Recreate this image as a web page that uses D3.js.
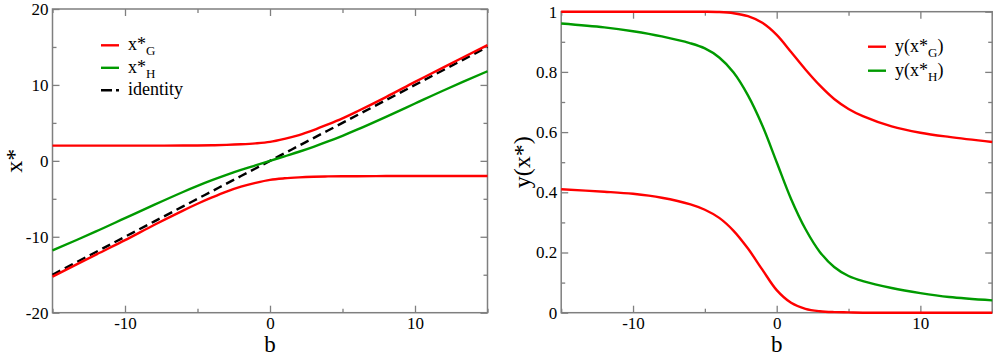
<!DOCTYPE html>
<html>
<head>
<meta charset="utf-8">
<script src="https://cdn.jsdelivr.net/npm/d3@7"></script>
<style>
  body { margin: 0; background: #fff; }
  svg { display: block; }
  text { font-family: "Liberation Serif", "DejaVu Serif", serif; fill: #000; }
</style>
</head>
<body>
<svg id="chart" width="993" height="356"></svg>
<script>
const bVals = [-15, -12, -10, -8, -6, -5, -4, -3, -2, -1, 0, 1, 2, 3, 4, 5, 6, 8, 10, 12, 15];

// left panel: fixed points x*
const xGUpper = [2.0, 2.0, 2.0, 2.0, 2.02, 2.03, 2.05, 2.1, 2.18, 2.3, 2.5, 2.9, 3.4, 4.05, 4.8, 5.6, 6.5, 8.4, 10.4, 12.35, 15.25];
const xGLower = [-15.25, -12.35, -10.45, -8.45, -6.55, -5.65, -4.82, -4.05, -3.4, -2.9, -2.5, -2.3, -2.18, -2.1, -2.05, -2.03, -2.02, -2.0, -2.0, -2.0, -2.0];
const xH = [-11.8, -9.3, -7.55, -5.8, -4.1, -3.3, -2.55, -1.85, -1.2, -0.6, 0, 0.6, 1.2, 1.85, 2.55, 3.3, 4.1, 5.8, 7.55, 9.3, 11.8];
const identity = [-15, -12, -10, -8, -6, -5, -4, -3, -2, -1, 0, 1, 2, 3, 4, 5, 6, 8, 10, 12, 15];

// right panel: y(x*)
const yGUpper = [1.0, 1.0, 1.0, 1.0, 1.0, 1.0, 0.999, 0.995, 0.985, 0.963, 0.923, 0.866, 0.808, 0.755, 0.71, 0.677, 0.653, 0.619, 0.598, 0.584, 0.567];
const yGLower = [0.41, 0.402, 0.395, 0.382, 0.36, 0.342, 0.315, 0.272, 0.213, 0.143, 0.075, 0.033, 0.013, 0.005, 0.002, 0.001, 0, 0, 0, 0, 0];
const yH = [0.961, 0.948, 0.935, 0.918, 0.895, 0.878, 0.848, 0.798, 0.722, 0.622, 0.5, 0.378, 0.278, 0.202, 0.152, 0.122, 0.105, 0.082, 0.065, 0.052, 0.041];

const bMajor = [-10, 0, 10];
const bMinor = [-15, -5, 5, 15];
const leftMajor = [-20, -10, 0, 10, 20];
const leftMinor = [-15, -5, 5, 15];
const rightMajor = [0, 0.2, 0.4, 0.6, 0.8, 1];
const rightMinor = [0.1, 0.3, 0.5, 0.7, 0.9];

const RED = "#ff0000";
const GREEN = "#009a00";
const FRAME = "#7f7f7f";
const SERIF = "Liberation Serif, DejaVu Serif, serif";

const svg = d3.select("#chart");

function pts(ys) {
  return bVals.map((b, i) => ({ b: b, v: ys[i] }));
}

function drawPanel(p) {
  const x = d3.scaleLinear().domain([-15, 15]).range([p.left, p.right]);
  const y = d3.scaleLinear().domain(p.yDomain).range([p.bottom, p.top]);
  const g = svg.append("g");

  // ticks, all pointing inward, mirrored on all sides
  function ticks(axisFn, vals, size, pos, showLabels, fmt) {
    const a = axisFn(axisFn === d3.axisBottom || axisFn === d3.axisTop ? x : y)
      .tickValues(vals)
      .tickSize(-size)
      .tickPadding(4)
      .tickFormat(showLabels ? fmt : "");
    const ag = g.append("g").attr("transform", pos).call(a);
    ag.attr("font-family", SERIF).attr("font-size", 17);
    ag.select(".domain").remove();
    ag.selectAll("line").attr("stroke", FRAME).attr("stroke-width", 1.3);
    ag.selectAll("text").style("font-family", SERIF).style("font-size", "17px").attr("fill", "#000");
  }
  const bot = "translate(0," + p.bottom + ")";
  const top = "translate(0," + p.top + ")";
  const lft = "translate(" + p.left + ",0)";
  const rgt = "translate(" + p.right + ",0)";
  const plain = (d) => String(d);
  ticks(d3.axisBottom, bMajor, 7, bot, true, plain);
  ticks(d3.axisBottom, bMinor, 4, bot, false);
  ticks(d3.axisTop, bMajor, 7, top, false);
  ticks(d3.axisTop, bMinor, 4, top, false);
  ticks(d3.axisLeft, p.yMajor, 7, lft, true, p.yFmt);
  ticks(d3.axisLeft, p.yMinor, 4, lft, false);
  ticks(d3.axisRight, p.yMajor, 7, rgt, false);
  ticks(d3.axisRight, p.yMinor, 4, rgt, false);

  g.append("rect")
    .attr("x", p.left).attr("y", p.top)
    .attr("width", p.right - p.left).attr("height", p.bottom - p.top)
    .attr("fill", "none").attr("stroke", FRAME).attr("stroke-width", 1.5);

  const line = d3.line()
    .x((d) => x(d.b))
    .y((d) => y(d.v))
    .curve(d3.curveCatmullRom.alpha(0.5));

  p.series.forEach((s) => {
    g.append("path")
      .datum(pts(s.values))
      .attr("fill", "none")
      .attr("stroke", s.color)
      .attr("stroke-width", 2.4)
      .attr("stroke-dasharray", s.dash || null)
      .attr("d", line);
  });

  // axis titles
  g.append("text")
    .attr("x", (p.left + p.right) / 2)
    .attr("y", 352)
    .attr("text-anchor", "middle")
    .style("font-size", "23px")
    .text("b");
  g.append("text")
    .attr("transform", "translate(" + p.yTitleX + "," + (p.top + p.bottom) / 2 + ") rotate(-90)")
    .attr("text-anchor", "middle")
    .style("font-size", "24px")
    .text(p.yTitle);

  // legend
  p.legend.forEach((l, i) => {
    const ly = p.legendY + i * p.legendStep;
    g.append("line")
      .attr("x1", p.legendX).attr("x2", p.legendX + 18)
      .attr("y1", ly).attr("y2", ly)
      .attr("stroke", l.color).attr("stroke-width", 2.4)
      .attr("stroke-dasharray", l.dash || null);
    const t = g.append("text")
      .attr("x", p.legendX + 27)
      .attr("y", ly + 5)
      .style("font-size", "18px");
    t.append("tspan").text(l.main);
    if (l.sub) {
      t.append("tspan").attr("dy", 5).style("font-size", "13px").text(l.sub);
      if (l.after) t.append("tspan").attr("dy", -5).text(l.after);
    }
  });
}

drawPanel({
  left: 52.5, right: 487.5, top: 9, bottom: 312.7,
  yDomain: [-20, 20], yMajor: leftMajor, yMinor: leftMinor, yFmt: (d) => String(d),
  yTitle: "x*", yTitleX: 22,
  series: [
    { values: identity, color: "#000", dash: "9,5" },
    { values: xH, color: GREEN },
    { values: xGUpper, color: RED },
    { values: xGLower, color: RED }
  ],
  legendX: 101, legendY: 45.3, legendStep: 22.5,
  legend: [
    { main: "x*", sub: "G", color: RED },
    { main: "x*", sub: "H", color: GREEN },
    { main: "identity", color: "#000", dash: "11,4" }
  ]
});

drawPanel({
  left: 561.2, right: 992.2, top: 11.7, bottom: 312.7,
  yDomain: [0, 1], yMajor: rightMajor, yMinor: rightMinor, yFmt: (d) => (d === 0 || d === 1 ? String(d) : d3.format(".1f")(d)),
  yTitle: "y(x*)", yTitleX: 530,
  series: [
    { values: yH, color: GREEN },
    { values: yGUpper, color: RED },
    { values: yGLower, color: RED }
  ],
  legendX: 868, legendY: 46.7, legendStep: 24,
  legend: [
    { main: "y(x*", sub: "G", after: ")", color: RED },
    { main: "y(x*", sub: "H", after: ")", color: GREEN }
  ]
});
</script>
</body>
</html>
